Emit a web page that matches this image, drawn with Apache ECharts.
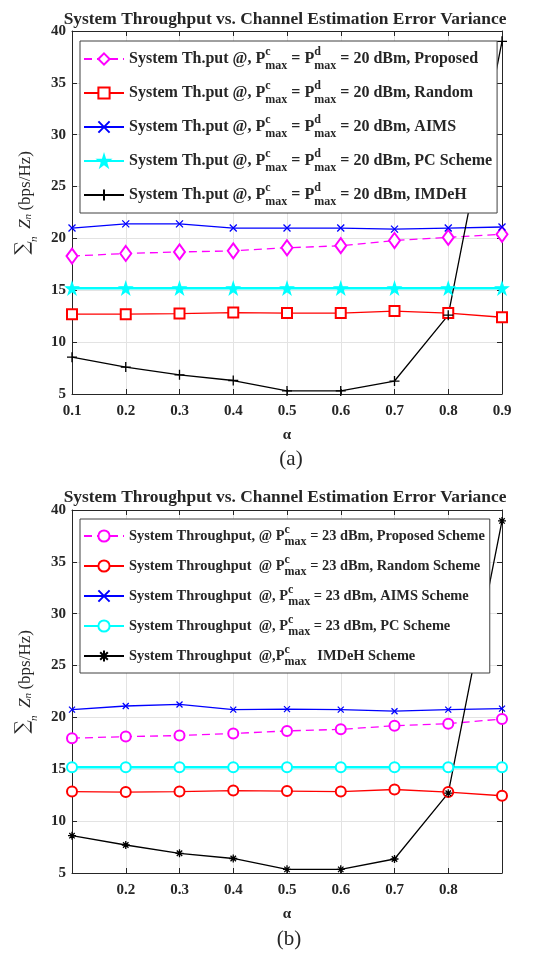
<!DOCTYPE html>
<html>
<head>
<meta charset="utf-8">
<script src="https://cdn.jsdelivr.net/npm/echarts@6.0.0/dist/echarts.min.js"></script>
<style>
  html, body { margin: 0; padding: 0; background: #fff; }
  #chart { width: 560px; height: 954px; }
</style>
</head>
<body>
<div id="chart"></div>
<script>
// x values (alpha)
const alpha = [0.1, 0.2, 0.3, 0.4, 0.5, 0.6, 0.7, 0.8, 0.9];

// (a) P_max^c = P_max^d = 20 dBm
const proposedA = [18.3, 18.55, 18.7, 18.8, 19.1, 19.3, 19.8, 20.1, 20.4];
const randomA = [12.7, 12.7, 12.75, 12.85, 12.8, 12.8, 13.0, 12.8, 12.4];
const aimsA = [21.0, 21.4, 21.4, 21.0, 21.0, 21.0, 20.9, 21.0, 21.1];
const pcA = [15.2, 15.2, 15.2, 15.2, 15.2, 15.2, 15.2, 15.2, 15.2];
const imdehA = [8.55, 7.6, 6.85, 6.3, 5.3, 5.3, 6.25, 12.6, 39.0];

// (b) P_max^c = 23 dBm
const proposedB = [18.0, 18.15, 18.25, 18.45, 18.7, 18.85, 19.2, 19.4, 19.85];
const randomB = [12.85, 12.8, 12.85, 12.95, 12.9, 12.85, 13.05, 12.8, 12.45];
const aimsB = [20.75, 21.1, 21.25, 20.75, 20.8, 20.75, 20.6, 20.75, 20.85];
const pcB = [15.2, 15.2, 15.2, 15.2, 15.2, 15.2, 15.2, 15.2, 15.2];
const imdehB = [8.6, 7.7, 6.9, 6.4, 5.35, 5.35, 6.35, 12.7, 38.95];

// legend texts (rich text: c = superscript, m = subscript)
const legendA = {
    'A-Proposed': 'System Th.put @, P{c|c}{m|max} = P{c|d}{m|max} = 20 dBm, Proposed',
    'A-Random': 'System Th.put @, P{c|c}{m|max} = P{c|d}{m|max} = 20 dBm, Random',
    'A-AIMS': 'System Th.put @, P{c|c}{m|max} = P{c|d}{m|max} = 20 dBm, AIMS',
    'A-PC': 'System Th.put @, P{c|c}{m|max} = P{c|d}{m|max} = 20 dBm, PC Scheme',
    'A-IMDeH': 'System Th.put @, P{c|c}{m|max} = P{c|d}{m|max} = 20 dBm, IMDeH'
};
const legendB = {
    'B-Proposed': 'System Throughput, @ P{c|c}{m|max} = 23 dBm, Proposed Scheme',
    'B-Random': 'System Throughput  @ P{c|c}{m|max} = 23 dBm, Random Scheme',
    'B-AIMS': 'System Throughput  @, P{c|c}{m|max} = 23 dBm, AIMS Scheme',
    'B-PC': 'System Throughput  @, P{c|c}{m|max} = 23 dBm, PC Scheme',
    'B-IMDeH': 'System Throughput  @,P{c|c}{m|max}   IMDeH Scheme'
};

const titleText = 'System Throughput vs. Channel Estimation Error Variance';
const serif = 'Liberation Serif';
const axisColor = '#262626';

// marker shapes
const crossPath = 'path://M0,0L10,10M10,0L0,10';
const plusPath = 'path://M5,0L5,10M0,5L10,5';
const asteriskPath = 'path://M5,0L5,10M0,5L10,5M1.6,1.6L8.4,8.4M8.4,1.6L1.6,8.4';
const starPath = 'path://M10,0L12.25,6.91L19.51,6.91L13.63,11.18L15.88,18.09L10,13.82L4.12,18.09L6.37,11.18L0.49,6.91L7.75,6.91Z';

function pairs(ys) {
    return alpha.map((a, i) => [a, ys[i]]);
}

function makeGrid(top) {
    return { left: 72, width: 430, top: top, height: 363 };
}

function bottomX(gridIndex, hideEnds) {
    return {
        gridIndex: gridIndex,
        type: 'value',
        position: 'bottom',
        min: 0.1,
        max: 0.9,
        interval: 0.1,
        name: 'α',
        nameLocation: 'middle',
        nameGap: 34,
        nameTextStyle: { fontFamily: serif, fontWeight: 'bold', fontSize: 15, color: axisColor },
        axisLine: { show: true, lineStyle: { color: axisColor, width: 1 } },
        axisTick: { show: true, inside: true, length: 5, lineStyle: { color: axisColor } },
        axisLabel: {
            fontFamily: serif, fontWeight: 'bold', fontSize: 15, color: axisColor, margin: 10,
            formatter: function (v) {
                if (hideEnds && (Math.abs(v - 0.1) < 1e-6 || Math.abs(v - 0.9) < 1e-6)) return '';
                return v.toFixed(1);
            }
        },
        splitLine: { show: true, lineStyle: { color: '#e3e3e3', width: 1 } }
    };
}

function topX(gridIndex) {
    return {
        gridIndex: gridIndex,
        type: 'value',
        position: 'top',
        min: 0.1,
        max: 0.9,
        interval: 0.1,
        axisLine: { show: true, lineStyle: { color: axisColor, width: 1 } },
        axisTick: { show: true, inside: true, length: 5, lineStyle: { color: axisColor } },
        axisLabel: { show: false },
        splitLine: { show: false }
    };
}

function leftY(gridIndex) {
    return {
        gridIndex: gridIndex,
        type: 'value',
        position: 'left',
        min: 5,
        max: 40,
        interval: 5,
        // the sum sign with n underneath, Z_n, then the unit; a leading spacer shifts it up a little
        name: '{sp|}{s|∑}{n|n}{z|Z}{zn|n} {u|(bps/Hz)}',
        nameLocation: 'middle',
        nameRotate: 90,
        nameGap: 22,
        nameTextStyle: {
            lineHeight: 30,
            rich: {
                sp: { width: 26 },
                s: { fontFamily: 'DejaVu Serif', fontSize: 19, color: axisColor, width: 0.1, verticalAlign: 'top', padding: [3, 0, 0, 0] },
                n: { fontFamily: serif, fontStyle: 'italic', fontSize: 11, color: axisColor, width: 17, align: 'center', verticalAlign: 'bottom' },
                z: { fontFamily: serif, fontStyle: 'italic', fontSize: 17, color: axisColor, padding: [0, 0, 0, 2] },
                zn: { fontFamily: serif, fontStyle: 'italic', fontSize: 11, color: axisColor, verticalAlign: 'bottom', padding: [0, 0, 6, 0] },
                u: { fontFamily: serif, fontSize: 17, color: axisColor }
            }
        },
        axisLine: { show: true, lineStyle: { color: axisColor, width: 1 } },
        axisTick: { show: true, inside: true, length: 5, lineStyle: { color: axisColor } },
        axisLabel: { fontFamily: serif, fontWeight: 'bold', fontSize: 15, color: axisColor, margin: 6 },
        splitLine: { show: true, lineStyle: { color: '#e3e3e3', width: 1 } }
    };
}

function rightY(gridIndex) {
    return {
        gridIndex: gridIndex,
        type: 'value',
        position: 'right',
        min: 5,
        max: 40,
        interval: 5,
        axisLine: { show: true, lineStyle: { color: axisColor, width: 1 } },
        axisTick: { show: true, inside: true, length: 5, lineStyle: { color: axisColor } },
        axisLabel: { show: false },
        splitLine: { show: false }
    };
}

function legendRich(subSize) {
    return {
        c: { fontFamily: serif, fontWeight: 'bold', fontSize: subSize, color: axisColor, width: 0.1, verticalAlign: 'top' },
        m: { fontFamily: serif, fontWeight: 'bold', fontSize: subSize, color: axisColor, verticalAlign: 'bottom' }
    };
}

function makeLegend(names, labels, top, lineHeight, gap, fontSize, subSize) {
    return {
        orient: 'vertical',
        left: 80,
        top: top,
        itemWidth: 40,
        itemHeight: 14,
        itemGap: gap,
        padding: [5, 5, 5, 3],
        backgroundColor: '#fff',
        borderColor: '#404040',
        borderWidth: 1,
        selectedMode: false,
        data: names,
        formatter: function (name) { return labels[name]; },
        textStyle: {
            fontFamily: serif, fontWeight: 'bold', fontSize: fontSize, color: axisColor,
            lineHeight: lineHeight,
            rich: legendRich(subSize)
        }
    };
}

function lineSeries(name, ys, xi, yi, color, symbol, size, extra) {
    const s = {
        name: name,
        type: 'line',
        xAxisIndex: xi,
        yAxisIndex: yi,
        data: pairs(ys),
        symbol: symbol,
        symbolSize: size,
        showAllSymbol: true,
        animation: false,
        lineStyle: { color: color, width: 1.3 },
        itemStyle: { color: color, borderColor: color, borderWidth: 1.3 },
        z: 3
    };
    return Object.assign(s, extra || {});
}

const chart = echarts.init(document.getElementById('chart'), null, { renderer: 'canvas' });

chart.setOption({
    backgroundColor: '#fff',
    title: [
        { text: titleText, left: 280, top: 6, textAlign: 'center',
          textStyle: { fontFamily: serif, fontWeight: 'bold', fontSize: 17.4, color: axisColor } },
        { text: '(a)', left: 286, top: 444, textAlign: 'center',
          textStyle: { fontFamily: serif, fontWeight: 'normal', fontSize: 21, color: axisColor } },
        { text: titleText, left: 280, top: 484, textAlign: 'center',
          textStyle: { fontFamily: serif, fontWeight: 'bold', fontSize: 17.4, color: axisColor } },
        { text: '(b)', left: 284, top: 924, textAlign: 'center',
          textStyle: { fontFamily: serif, fontWeight: 'normal', fontSize: 21, color: axisColor } }
    ],
    grid: [makeGrid(31), makeGrid(510)],
    xAxis: [bottomX(0, false), topX(0), bottomX(1, true), topX(1)],
    yAxis: [leftY(0), rightY(0), leftY(1), rightY(1)],
    legend: [
        makeLegend(Object.keys(legendA), legendA, 41, 26, 8, 16, 12),
        makeLegend(Object.keys(legendB), legendB, 519, 24, 6, 14.4, 12)
    ],
    series: [
        lineSeries('A-Proposed', proposedA, 0, 0, '#ff00ff', 'emptyDiamond', [11, 15],
            { lineStyle: { color: '#ff00ff', width: 1.3, type: [8, 5] } }),
        lineSeries('A-Random', randomA, 0, 0, '#ff0000', 'emptyRect', 10),
        lineSeries('A-AIMS', aimsA, 0, 0, '#0000ff', crossPath, 7),
        lineSeries('A-PC', pcA, 0, 0, '#00ffff', starPath, 12,
            { lineStyle: { color: '#00ffff', width: 2.5 } }),
        lineSeries('A-IMDeH', imdehA, 0, 0, '#000000', plusPath, 10),

        lineSeries('B-Proposed', proposedB, 2, 2, '#ff00ff', 'emptyCircle', 10,
            { lineStyle: { color: '#ff00ff', width: 1.3, type: [8, 5] } }),
        lineSeries('B-Random', randomB, 2, 2, '#ff0000', 'emptyCircle', 10),
        lineSeries('B-AIMS', aimsB, 2, 2, '#0000ff', crossPath, 6),
        lineSeries('B-PC', pcB, 2, 2, '#00ffff', 'emptyCircle', 10,
            { lineStyle: { color: '#00ffff', width: 2.5 } }),
        lineSeries('B-IMDeH', imdehB, 2, 2, '#000000', asteriskPath, 8)
    ]
});
</script>
</body>
</html>
